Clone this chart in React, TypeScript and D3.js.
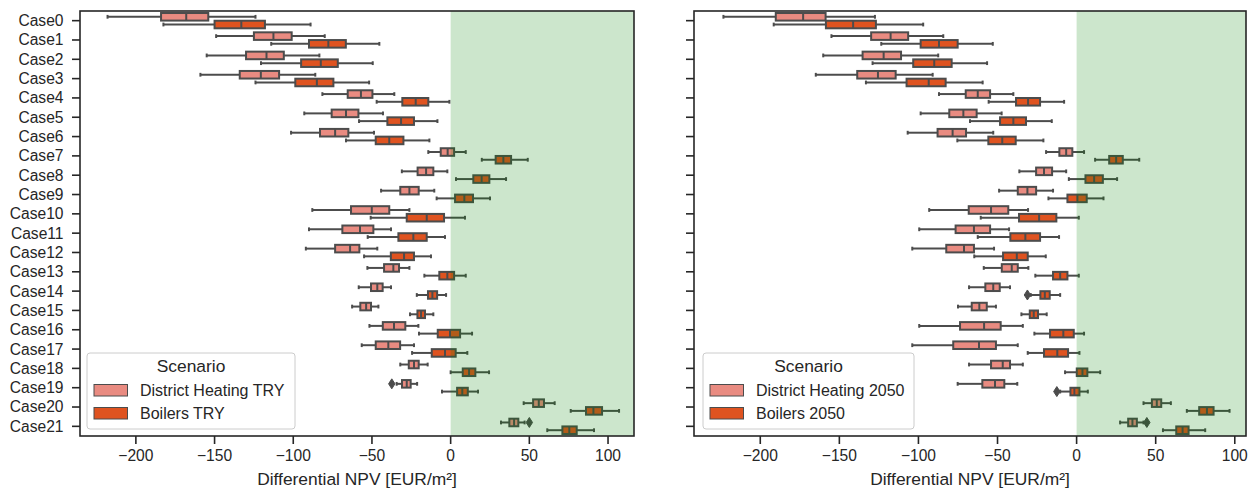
import React from "react";
import * as d3 from "d3";

const cases = Array.from({ length: 22 }, (_, i) => `Case${i}`);
const xTicks = [-200, -150, -100, -50, 0, 50, 100];

// [whisker low, Q1, median, Q3, whisker high]
const dhTry: number[][] = [
  [-218, -184, -168, -154, -124], [-149, -125, -112.6, -101, -80], [-155, -130, -117, -106, -83.4],
  [-159, -134, -120.6, -109, -86], [-81.5, -65.4, -57, -49.7, -35.8], [-93, -75.6, -66.5, -58.6, -43],
  [-101.4, -83, -73.4, -65, -48.7], [-14.2, -6.3, -1.9, 2.2, 9.6], [-31, -21, -15.6, -11, -2.1],
  [-44.2, -32, -26.2, -20.3, -10.4], [-87.9, -63.3, -50.1, -39, -26.2], [-90, -68.8, -57.6, -49.1, -37.9],
  [-92, -73.4, -63.9, -58, -46.6], [-52.9, -42.3, -36.4, -32.8, -26.2], [-58.4, -50.6, -46.6, -43.2, -37.9],
  [-62.6, -57.4, -53.7, -50.6, -45.9], [-51.6, -43.1, -36, -28.8, -20.5], [-56.5, -47.6, -39.6, -32.1, -23.3],
  [-32, -26.6, -23.3, -20.3, -14.6], [-34.3, -30.9, -27.9, -25.4, -21.3], [46.4, 52.4, 56, 59.3, 66.1],
  [32, 37.3, 40.3, 43, 47],
];
const boilersTry: number[][] = [
  [-182.5, -150, -133, -118, -89], [-114, -90, -77.7, -66.6, -45.3], [-120.5, -95, -82.5, -71.7, -49.5],
  [-124, -98.7, -85, -74.5, -51.8], [-47, -30.7, -22.2, -14.2, -0.8], [-58.2, -40.2, -31.5, -23.3, -8.4],
  [-66.5, -47.6, -39, -30, -13.5], [19.8, 28.6, 33.5, 38.4, 49], [3.4, 14.4, 19.7, 24.6, 35.2],
  [-8.9, 2.8, 8.7, 14.2, 25], [-50.8, -27.9, -15.2, -4.2, 9.1], [-52.7, -33.2, -23.7, -15.2, -3.6],
  [-55, -38, -29.6, -23.3, -12.5], [-16.7, -7.2, -2.1, 2.2, 9.6], [-21.5, -14.4, -11.6, -8.6, -2.9],
  [-25.8, -21.1, -18.8, -16.3, -11], [-20.1, -8.2, -0.4, 6, 13.6], [-24.5, -12, -3.6, 3.2, 10.6],
  [0, 7.7, 11.7, 15.7, 24.4], [-5.5, 4.1, 7.4, 10.9, 17.4], [76.3, 86, 90.7, 96.2, 107],
  [61.4, 71, 75.4, 80.1, 91.1],
];
const dh2050: number[][] = [
  [-223.3, -190.2, -172.9, -158.7, -127.5], [-155, -129.9, -117.6, -106.5, -84.3], [-160.2, -135.3, -122, -111, -87.5],
  [-164.9, -138.7, -125.6, -114.4, -91], [-87, -70.1, -62.5, -54.7, -40], [-98.6, -80.5, -71.6, -63.2, -47.4],
  [-106.8, -87.9, -78.4, -69.9, -52.7], [-19.3, -10.9, -6.6, -2.7, 4.7], [-36.2, -25.6, -20.6, -15.5, -6.6],
  [-49, -37.2, -31.1, -25.6, -14.9], [-93.2, -68.2, -54.1, -43.2, -30.7], [-99.5, -76.5, -64.9, -54.7, -42.7],
  [-103.9, -82.4, -71.2, -64.9, -52.2], [-58.7, -47.3, -41, -37.2, -30.5], [-68, -57.7, -52.7, -48.6, -42.1],
  [-75, -66.3, -61.5, -56.8, -51], [-99.5, -73.7, -58.5, -48, -34], [-103.9, -78, -61.7, -51, -37.2],
  [-68, -54.1, -46.7, -42.1, -34], [-75.2, -59.6, -51.6, -45.7, -37.5], [42.3, 47.6, 50.7, 53.5, 59.6],
  [27.5, 32.6, 35.3, 38.1, 42.3],
];
const boilers2050: number[][] = [
  [-191.5, -158.5, -141.3, -126.9, -97], [-123.5, -98.6, -87, -75.2, -53], [-129, -103.3, -90, -79, -56.6],
  [-133.2, -107.5, -93.5, -82.8, -59.4], [-55.6, -38.3, -30.7, -23.1, -7.9], [-67.4, -48.4, -40, -32, -15.7],
  [-75.4, -55.8, -47, -38.5, -21], [11.7, 20.6, 25, 29.2, 39.6], [-4.9, 5.6, 11.1, 16.6, 25.6],
  [-17.8, -5.8, 0.5, 6.4, 17], [-60.6, -36.4, -23.7, -12.8, 1.4], [-62.5, -41.9, -32.4, -23.1, -11.1],
  [-64.7, -46.5, -37.8, -30.9, -19.5], [-26.1, -14.9, -10.4, -5.8, 1.4], [-29, -22.9, -20.1, -17, -10.4],
  [-34.9, -29.6, -27.1, -24.4, -18.9], [-26.7, -16.8, -8.4, -1.8, 4.7], [-30.9, -20.6, -12.2, -5.4, 1.8],
  [-7.3, 0.1, 3.7, 6.8, 14.9], [-10.4, -3.9, -1.4, 1.8, 7.1], [69.7, 77.5, 82.4, 86.6, 96.7],
  [54.6, 63, 67, 70.8, 81.3],
];
// outliers: [case index, value]
const dhTryOut: [number, number][] = [[19, -37.4], [21, 50]];
const boilersTryOut: [number, number][] = [];
const dh2050Out: [number, number][] = [[21, 44.4]];
const boilers2050Out: [number, number][] = [[14, -31.1], [19, -12.5]];

const DH_COLOR = "#E98B81";
const BO_COLOR = "#DF5320";
const LINE = "#4c4c4c";
const AX = "#262626";
const FONT = "Liberation Sans, Arial, sans-serif";
const TICK_FS = 15.6;
const LEG_FS = 16;
const LABEL_FS = 17.4;

type PanelProps = {
  left: number;
  right: number;
  domain: [number, number];
  showLabels: boolean;
  dh: number[][];
  bo: number[][];
  dhOut: [number, number][];
  boOut: [number, number][];
  legendLabels: [string, string];
  legendBox: [number, number];
};

const TOP = 11;
const BOTTOM = 436;

function Box({ stats, cy, h, x, color }: { stats: number[]; cy: number; h: number; x: d3.ScaleLinear<number, number>; color: string }) {
  const [lo, q1, med, q3, hi] = stats.map((v) => x(v));
  const cap = h / 4;
  return (
    <g>
      <line x1={lo} x2={q1} y1={cy} y2={cy} stroke={LINE} strokeWidth={2} />
      <line x1={q3} x2={hi} y1={cy} y2={cy} stroke={LINE} strokeWidth={2} />
      <line x1={lo} x2={lo} y1={cy - cap} y2={cy + cap} stroke={LINE} strokeWidth={2} />
      <line x1={hi} x2={hi} y1={cy - cap} y2={cy + cap} stroke={LINE} strokeWidth={2} />
      <rect x={q1} y={cy - h / 2} width={q3 - q1} height={h} fill={color} stroke={LINE} strokeWidth={2} />
      <line x1={med} x2={med} y1={cy - h / 2} y2={cy + h / 2} stroke={LINE} strokeWidth={2} />
    </g>
  );
}

function Diamond({ cx, cy }: { cx: number; cy: number }) {
  const w = 3.2, hh = 5;
  return <path d={`M${cx},${cy - hh}L${cx + w},${cy}L${cx},${cy + hh}L${cx - w},${cy}Z`} fill={LINE} stroke={LINE} strokeWidth={1} />;
}

function Panel(p: PanelProps) {
  const x = d3.scaleLinear().domain(p.domain).range([p.left, p.right]);
  const y = d3.scaleBand<string>().domain(cases).range([TOP, BOTTOM]).padding(0);
  const bw = y.bandwidth();
  const off = bw * 0.2;
  const bh = bw * 0.392;
  const center = (i: number) => (y(cases[i]) as number) + bw / 2;
  const [lgL, lgR] = p.legendBox;
  return (
    <g>
      {p.dh.map((s, i) => (
        <Box key={`d${i}`} stats={s} cy={center(i) - off} h={bh} x={x} color={DH_COLOR} />
      ))}
      {p.bo.map((s, i) => (
        <Box key={`b${i}`} stats={s} cy={center(i) + off} h={bh} x={x} color={BO_COLOR} />
      ))}
      {p.dhOut.map(([i, v], k) => (
        <Diamond key={`do${k}`} cx={x(v)} cy={center(i) - off} />
      ))}
      {p.boOut.map(([i, v], k) => (
        <Diamond key={`bo${k}`} cx={x(v)} cy={center(i) + off} />
      ))}
      {/* green positive region overlay */}
      <rect x={x(0)} y={TOP} width={p.right - x(0)} height={BOTTOM - TOP} fill="#008000" fillOpacity={0.2} />
      {/* frame */}
      <rect x={p.left} y={TOP} width={p.right - p.left} height={BOTTOM - TOP} fill="none" stroke={AX} strokeWidth={1.6} />
      {/* y ticks */}
      {cases.map((c, i) => (
        <g key={c}>
          <line x1={p.left - 8} x2={p.left} y1={center(i)} y2={center(i)} stroke={AX} strokeWidth={1.6} />
          {p.showLabels && (
            <text x={p.left - 16.5} y={center(i)} dy="0.35em" textAnchor="end" fontSize={TICK_FS} fill={AX} fontFamily={FONT}>
              {c}
            </text>
          )}
        </g>
      ))}
      {/* x ticks */}
      {xTicks.map((t) => (
        <g key={t}>
          <line x1={x(t)} x2={x(t)} y1={BOTTOM} y2={BOTTOM + 8} stroke={AX} strokeWidth={1.6} />
          <text x={x(t)} y={BOTTOM + 25} textAnchor="middle" fontSize={TICK_FS} fill={AX} fontFamily={FONT}>
            {t < 0 ? `\u2212${Math.abs(t)}` : `${t}`}
          </text>
        </g>
      ))}
      <text x={(p.left + p.right) / 2} y={485} textAnchor="middle" fontSize={LABEL_FS} fill={AX} fontFamily={FONT}>
        Differential NPV [EUR/m²]
      </text>
      {/* legend */}
      <g>
        <rect x={lgL} y={353} width={lgR - lgL} height={76} rx={3} fill="#ffffff" fillOpacity={0.8} stroke="#cccccc" strokeWidth={1} />
        <text x={(lgL + lgR) / 2} y={366} dy="0.35em" textAnchor="middle" fontSize={LABEL_FS} fill={AX} fontFamily={FONT}>
          Scenario
        </text>
        <rect x={lgL + 7} y={384.5} width={33.5} height={11.5} fill={DH_COLOR} stroke={LINE} strokeWidth={1} />
        <text x={lgL + 53} y={390} dy="0.35em" fontSize={LEG_FS} fill={AX} fontFamily={FONT}>
          {p.legendLabels[0]}
        </text>
        <rect x={lgL + 7} y={407.5} width={33.5} height={11.5} fill={BO_COLOR} stroke={LINE} strokeWidth={1} />
        <text x={lgL + 53} y={413} dy="0.35em" fontSize={LEG_FS} fill={AX} fontFamily={FONT}>
          {p.legendLabels[1]}
        </text>
      </g>
    </g>
  );
}

export default function App() {
  return (
    <svg width={1253} height={490} style={{ position: "absolute", left: 0, top: 0, background: "#fff" }}>
      <rect x={0} y={0} width={1253} height={490} fill="#fff" />
      <Panel
        left={80}
        right={634}
        domain={[-235.5, 116.5]}
        showLabels={true}
        dh={dhTry}
        bo={boilersTry}
        dhOut={dhTryOut}
        boOut={boilersTryOut}
        legendLabels={["District Heating TRY", "Boilers TRY"]}
        legendBox={[87, 295]}
      />
      <Panel
        left={694}
        right={1246}
        domain={[-241.9, 107.1]}
        showLabels={false}
        dh={dh2050}
        bo={boilers2050}
        dhOut={dh2050Out}
        boOut={boilers2050Out}
        legendLabels={["District Heating 2050", "Boilers 2050"]}
        legendBox={[703, 914]}
      />
    </svg>
  );
}
